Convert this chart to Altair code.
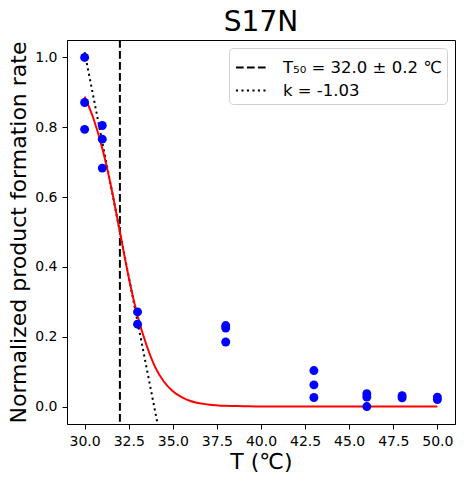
import altair as alt
import pandas as pd

# Measured points (T in °C, normalized rate)
pt_T = [30, 30, 30, 31, 31, 31, 33, 33, 38, 38, 38, 43, 43, 43, 46, 46, 46, 48, 48, 50, 50]
pt_y = [1.0, 0.871, 0.794, 0.805, 0.766, 0.683, 0.271, 0.236, 0.232, 0.225, 0.185,
        0.103, 0.062, 0.026, 0.037, 0.027, 0.0, 0.031, 0.025, 0.027, 0.02]

# Fitted curve
fit_T = [30, 30.5, 31, 31.5, 32, 32.5, 33, 33.5, 34, 34.5, 35, 35.5, 36, 37, 38, 39, 40, 45, 50]
fit_y = [0.888, 0.825, 0.74, 0.63, 0.50, 0.37, 0.26, 0.177, 0.113, 0.071, 0.044, 0.027, 0.016,
         0.006, 0.002, 0.001, 0.0, 0.0, 0.0]

# Tangent (dotted) line endpoints
tan_T = [30, 35]
tan_y = [1.015, -0.272]

T50 = 32.0
lab_t50 = "T₅₀ = 32.0 ± 0.2 ℃"
lab_k = "k = -1.03"

font = "DejaVu Sans"
xs = alt.Scale(domain=[29, 51], nice=False, zero=False)
ys = alt.Scale(domain=[-0.05, 1.05], nice=False, zero=False)

common = dict(grid=False, titleFontSize=22, titleFontWeight="normal", labelFontSize=14,
              domainColor="black", tickColor="black", labelColor="black", titleColor="black",
              tickSize=5, tickWidth=1, domainWidth=1, labelPadding=5, labelFont=font, titleFont=font)
xaxis = alt.Axis(title="T (℃)", values=[30, 32.5, 35, 37.5, 40, 42.5, 45, 47.5, 50], format=".1f",
                 titlePadding=3, **common)
yaxis = alt.Axis(title="Normalized product formation rate", values=[0, 0.2, 0.4, 0.6, 0.8, 1.0], format=".1f",
                 titlePadding=4, **common)

dash_scale = alt.Scale(domain=[lab_t50, lab_k], range=[[7.7, 3.3], [2.1, 3.4]])
legend = alt.Legend(title=None, orient="top-right", symbolType="M-0.95,0L1.55,0", symbolStrokeColor="black",
                    symbolStrokeWidth=2, symbolSize=700, labelFontSize=16.5, labelFont=font,
                    fillColor="white", strokeColor="#d0d0d0", cornerRadius=4, padding=5,
                    rowPadding=0, offset=8, labelOffset=20, labelColor="black")

pts = pd.DataFrame({"T": pt_T, "y": pt_y})
fit = pd.DataFrame({"T": fit_T, "y": fit_y})
tan = pd.DataFrame({"T": tan_T, "y": tan_y, "s": [lab_k] * 2})
vline = pd.DataFrame({"T": [T50], "s": [lab_t50]})

fit_layer = alt.Chart(fit).mark_line(color="#ff0000", strokeWidth=2, interpolate="monotone").encode(
    x=alt.X("T:Q", scale=xs, axis=xaxis),
    y=alt.Y("y:Q", scale=ys, axis=yaxis),
)
tan_layer = alt.Chart(tan).mark_line(color="black", strokeWidth=2, clip=True).encode(
    x=alt.X("T:Q", scale=xs),
    y=alt.Y("y:Q", scale=ys),
    strokeDash=alt.StrokeDash("s:N", scale=dash_scale, legend=legend),
)
rule_layer = alt.Chart(vline).mark_rule(color="black", strokeWidth=2).encode(
    x=alt.X("T:Q", scale=xs),
    strokeDash=alt.StrokeDash("s:N", scale=dash_scale, legend=legend),
)
pt_layer = alt.Chart(pts).mark_circle(color="#0000ff", opacity=1, size=80).encode(
    x=alt.X("T:Q", scale=xs),
    y=alt.Y("y:Q", scale=ys),
)

chart = alt.layer(rule_layer, tan_layer, fit_layer, pt_layer).properties(
    width=388, height=384,
    autosize=alt.AutoSizeParams(type="none"),
    padding={"left": 59, "top": 32, "right": 1, "bottom": 50},
    title=alt.TitleParams("S17N", fontSize=28, font=font, fontWeight="normal", color="black", offset=2),
).configure(font=font).configure_view(stroke="black", strokeWidth=1)

chart.save("out.html", embed_options={"renderer": "svg", "actions": False})
